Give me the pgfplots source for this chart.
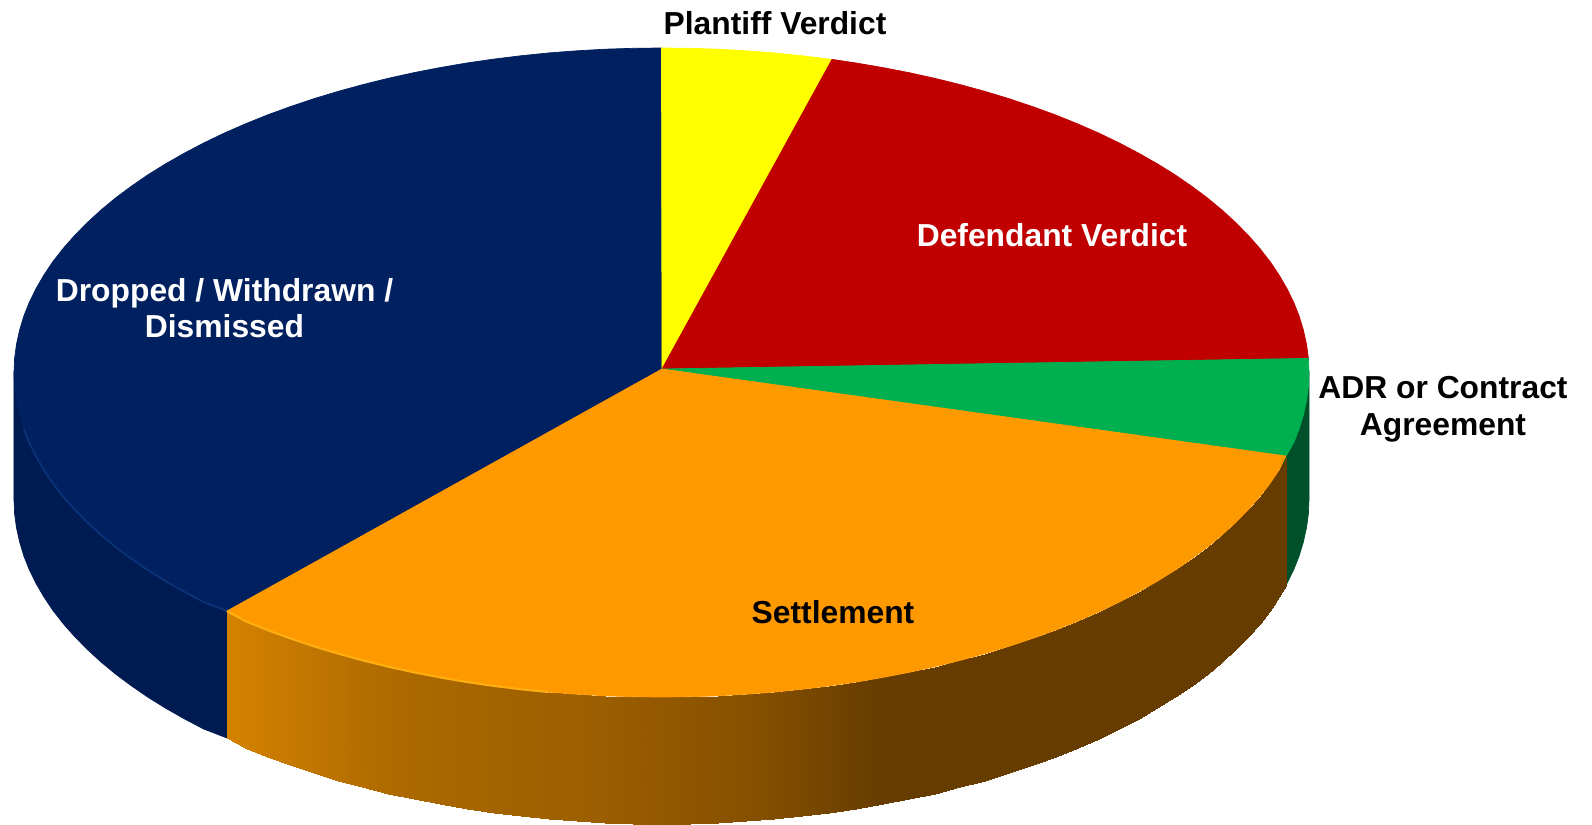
\documentclass[border=0pt]{standalone}
\usepackage{fontspec}
\setmainfont{Liberation Sans}
\usepackage{pgfplots}
\pgfplotsset{compat=1.18}
\definecolor{navytop}{HTML}{002060}
\definecolor{navyside}{HTML}{001A52}
\definecolor{navyrim}{HTML}{0B3478}
\definecolor{yellowtop}{HTML}{FFFF00}
\definecolor{redtop}{HTML}{C00000}
\definecolor{greentop}{HTML}{00B050}
\definecolor{greenside}{HTML}{00502A}
\definecolor{orangetop}{HTML}{FF9900}
\definecolor{orangerim}{HTML}{FFAE12}
\begin{document}
\begin{tikzpicture}
\begin{axis}[
    width=15.92cm, height=8.25cm,
    scale only axis,
    hide axis,
    xmin=0, xmax=1592,
    ymin=0, ymax=825,
    y dir=reverse,
    clip=false,
    point meta min=0, point meta max=1,
    colormap={wall}{rgb255=(102,60,0) rgb255=(224,138,0)},
    every axis plot/.append style={mark=none, line width=0.2pt},
    nodes={font=\fontsize{9.05}{10.4}\selectfont\bfseries, inner sep=0pt, align=center},
]
% background
\addplot[draw=none, fill=white] coordinates {(0,0)(1592,0)(1592,825)(0,825)} --cycle;

% side walls
\addplot[draw=navyside, fill=navyside] coordinates {
    (227,611)(227,738)(203.7,729)(184.1,718.7)(165.5,708.1)(147.8,697.1)(131.1,685.6)
    (115.4,673.9)(100.8,661.8)(87.2,649.3)(74.7,636.6)(63.3,623.7)(53,610.5)(44,597.1)
    (36.1,583.5)(29.3,569.7)(23.8,555.8)(19.6,541.8)(16.5,527.8)(14.6,513.6)(14,499.5)(14,372.5)} --cycle;
\addplot[draw=greenside, fill=greenside] coordinates {
    (1309,372.5)(1309,499.5)(1308.4,513.6)(1306.5,527.8)(1303.4,541.8)(1299.2,555.8)
    (1293.7,569.7)(1286.9,583.5)(1280,450)} --cycle;
\addplot[surf, shader=interp, point meta=explicit, mesh/ordering=x varies, mesh/cols=48] table[x=x, y=y, meta=c] {
x y c
227 611 .90
245.3 621.1 .87
267.3 630 .825
290.1 638.3 .78
313.6 646.2 .735
337.7 653.5 .69
362.5 660.3 .645
387.9 666.6 .60
413.7 672.3 .575
440 677.4 .55
466.8 682 .525
493.9 685.9 .50
521.4 689.3 .485
549.1 692.1 .47
577 694.2 .45
605 695.8 .43
633.3 696.7 .40
661.5 697 .37
689.7 696.7 .335
718 695.8 .30
746 694.2 .26
773.9 692.1 .22
801.6 689.3 .165
829.1 685.9 .11
856.2 682 .055
883 677.4 0
909.3 672.3 0
935.1 666.6 0
960.5 660.3 0
985.3 653.5 0
1009.4 646.2 0
1032.9 638.3 0
1055.7 630 0
1077.7 621.1 0
1099 611.8 0
1119.3 602 0
1138.9 591.7 0
1157.5 581.1 0
1175.2 570.1 0
1191.9 558.6 0
1207.6 546.9 0
1222.2 534.8 0
1235.8 522.3 0
1248.3 509.6 0
1259.7 496.7 0
1270 483.5 0
1279 470.1 0
1286.9 456.5 0

227 738 .90
245.3 748.1 .87
267.3 757 .825
290.1 765.3 .78
313.6 773.2 .735
337.7 780.5 .69
362.5 787.3 .645
387.9 793.6 .60
413.7 799.3 .575
440 804.4 .55
466.8 809 .525
493.9 812.9 .50
521.4 816.3 .485
549.1 819.1 .47
577 821.2 .45
605 822.8 .43
633.3 823.7 .40
661.5 824 .37
689.7 823.7 .335
718 822.8 .30
746 821.2 .26
773.9 819.1 .22
801.6 816.3 .165
829.1 812.9 .11
856.2 809 .055
883 804.4 0
909.3 799.3 0
935.1 793.6 0
960.5 787.3 0
985.3 780.5 0
1009.4 773.2 0
1032.9 765.3 0
1055.7 757 0
1077.7 748.1 0
1099 738.8 0
1119.3 729 0
1138.9 718.7 0
1157.5 708.1 0
1175.2 697.1 0
1191.9 685.6 0
1207.6 673.9 0
1222.2 661.8 0
1235.8 649.3 0
1248.3 636.6 0
1259.7 623.7 0
1270 610.5 0
1279 597.1 0
1286.9 583.5 0
};

% top face
\addplot[draw=navytop, fill=navytop] coordinates {
    (662,369)(227,611)(203.7,602)(184.1,591.7)(165.5,581.1)(147.8,570.1)(131.1,558.6)
    (115.4,546.9)(100.8,534.8)(87.2,522.3)(74.7,509.6)(63.3,496.7)(53,483.5)(44,470.1)
    (36.1,456.5)(29.3,442.7)(23.8,428.8)(19.6,414.8)(16.5,400.8)(14.6,386.6)(14,372.5)
    (14.6,358.4)(16.5,344.2)(19.6,330.2)(23.8,316.2)(29.3,302.3)(36.1,288.5)(44,274.9)
    (53,261.5)(63.3,248.3)(74.7,235.4)(87.2,222.7)(100.8,210.2)(115.4,198.1)(131.1,186.4)
    (147.8,174.9)(165.5,163.9)(184.1,153.3)(203.7,143)(224,133.2)(245.3,123.9)(267.3,115)
    (290.1,106.7)(313.6,98.8)(337.7,91.5)(362.5,84.7)(387.9,78.4)(413.7,72.7)(440,67.6)
    (466.8,63)(493.9,59.1)(521.4,55.7)(549.1,52.9)(577,50.8)(605,49.2)(633.3,48.3)(661.5,48)} --cycle;
\addplot[draw=yellowtop, fill=yellowtop] coordinates {
    (662,369)(661.5,48)(689.7,48.3)(718,49.2)(746,50.8)(773.9,52.9)(801.6,55.7)(832,59.4)} --cycle;
\addplot[draw=redtop, fill=redtop] coordinates {
    (662,369)(832,59.4)(856.2,63)(883,67.6)(909.3,72.7)(935.1,78.4)(960.5,84.7)(985.3,91.5)
    (1009.4,98.8)(1032.9,106.7)(1055.7,115)(1077.7,123.9)(1099,133.2)(1119.3,143)
    (1138.9,153.3)(1157.5,163.9)(1175.2,174.9)(1191.9,186.4)(1207.6,198.1)(1222.2,210.2)
    (1235.8,222.7)(1248.3,235.4)(1259.7,248.3)(1270,261.5)(1279,274.9)(1286.9,288.5)
    (1293.7,302.3)(1299.2,316.2)(1303.4,330.2)(1306.5,344.2)(1308.4,358.4)} --cycle;
\addplot[draw=greentop, fill=greentop] coordinates {
    (662,369)(1308.4,358.4)(1309,372.5)(1308.4,386.6)(1306.5,400.8)(1303.4,414.8)
    (1299.2,428.8)(1293.7,442.7)(1286,456)} --cycle;
\addplot[draw=orangetop, fill=orangetop] coordinates {
    (662,369)(1286,456)(1279,470.1)(1270,483.5)(1259.7,496.7)(1248.3,509.6)(1235.8,522.3)
    (1222.2,534.8)(1207.6,546.9)(1191.9,558.6)(1175.2,570.1)(1157.5,581.1)(1138.9,591.7)
    (1119.3,602)(1099,611.8)(1077.7,621.1)(1055.7,630)(1032.9,638.3)(1009.4,646.2)
    (985.3,653.5)(960.5,660.3)(935.1,666.6)(909.3,672.3)(883,677.4)(856.2,682)(829.1,685.9)
    (801.6,689.3)(773.9,692.1)(746,694.2)(718,695.8)(689.7,696.7)(661.5,697)(633.3,696.7)
    (605,695.8)(577,694.2)(549.1,692.1)(521.4,689.3)(493.9,685.9)(466.8,682)(440,677.4)
    (413.7,672.3)(387.9,666.6)(362.5,660.3)(337.7,653.5)(313.6,646.2)(290.1,638.3)
    (267.3,630)(245.3,621.1)(227,611)} --cycle;

% bright rim lines
\addplot[navyrim, line width=0.5pt] coordinates {
    (23.8,428.8)(29.3,442.7)(36.1,456.5)(44,470.1)(53,483.5)(63.3,496.7)(74.7,509.6)
    (87.2,522.3)(100.8,534.8)(115.4,546.9)(131.1,558.6)(147.8,570.1)(165.5,581.1)
    (184.1,591.7)(203.7,602)(227,611)};
\addplot[orangerim, line width=0.6pt] coordinates {
    (227,611)(245.3,621.1)(267.3,630)(290.1,638.3)(313.6,646.2)(337.7,653.5)(362.5,660.3)
    (387.9,666.6)(413.7,672.3)(440,677.4)(466.8,682)(493.9,685.9)(521.4,689.3)(549.1,692.1)};

% labels
\node[black] at (axis cs:775,23) {Plantiff Verdict};
\node[white] at (axis cs:1052,235) {Defendant Verdict};
\node[white] at (axis cs:224.5,308) {Dropped / Withdrawn /\\Dismissed};
\node[black] at (axis cs:1443,409) {ADR or Contract\\Agreement};
\node[black] at (axis cs:833,612) {Settlement};
\end{axis}
\end{tikzpicture}
\end{document}
